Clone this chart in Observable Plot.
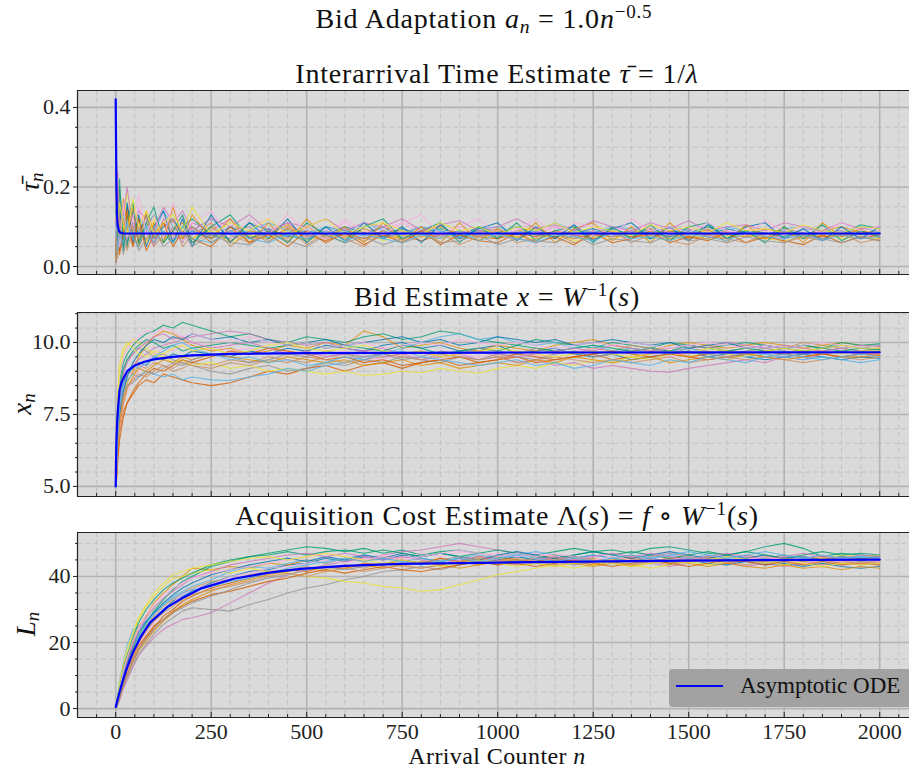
<!DOCTYPE html>
<html><head><meta charset="utf-8">
<script src="https://cdn.jsdelivr.net/npm/d3@7"></script>
<script src="https://cdn.jsdelivr.net/npm/@observablehq/plot@0.6"></script>
<style>
body{margin:0;background:#fff;}
#fig{position:relative;width:909px;height:770px;overflow:hidden;font-family:"Liberation Serif","Times New Roman","DejaVu Serif",serif;color:#111;}
.t{position:absolute;white-space:nowrap;transform:translateX(-50%);font-size:28px;letter-spacing:0.8px;line-height:1;}
.panel{position:absolute;left:0;}
.yl{position:absolute;font-size:27px;line-height:1;transform:translate(-50%,-50%) rotate(-90deg);white-space:nowrap;}
sup{font-size:0.68em;vertical-align:0.5em;line-height:0;}
sub{font-size:0.7em;vertical-align:-0.25em;line-height:0;}
#legend{position:absolute;left:669px;top:669px;width:245px;height:38px;background:#a2a2a2;border-radius:4px;}
#legend .ln{position:absolute;left:7px;top:16px;width:47px;height:2px;background:#0000ff;}
#legend .lt{position:absolute;left:71px;top:5px;font-size:23px;line-height:1;white-space:nowrap;color:#111;}
</style></head>
<body>
<div id="fig">
  <div class="t" style="left:484px;top:5px;">Bid Adaptation <i>a</i><sub><i>n</i></sub> = 1.0<i>n</i><sup>−0.5</sup></div>
  <div class="t" style="left:497px;top:60px;">Interarrival Time Estimate <i>τ̄</i> = 1/<i>λ</i></div>
  <div class="t" style="left:497px;top:283px;">Bid Estimate <i>x</i> = <i>W</i><sup>−1</sup>(<i>s</i>)</div>
  <div class="t" style="left:497px;top:502px;">Acquisition Cost Estimate Λ(<i>s</i>) = <i>f</i> ∘ <i>W</i><sup>−1</sup>(<i>s</i>)</div>
  <div class="t" style="left:497px;top:744px;font-size:24px;letter-spacing:0.4px;">Arrival Counter <i>n</i></div>
  <div class="yl" style="left:30px;top:182px;"><i>τ̄</i><sub><i>n</i></sub></div>
  <div class="yl" style="left:22px;top:404px;"><i>x</i><sub><i>n</i></sub></div>
  <div class="yl" style="left:26px;top:624px;"><i>L</i><sub><i>n</i></sub></div>
  <div id="p1" class="panel" style="top:85px;"></div>
  <div id="p2" class="panel" style="top:307px;"></div>
  <div id="p3" class="panel" style="top:527px;"></div>
  <div id="legend"><div class="ln"></div><div class="lt">Asymptotic ODE</div></div>
</div>
<script>
// ---- data ----
const nGrid = [1,5,10,20,30,45,60,80,100,125,150,175,200,250,300,350,400,450,500,550,600,650,700,750,800,850,900,950,1000,1050,1100,1150,1200,1250,1300,1350,1400,1450,1500,1550,1600,1650,1700,1750,1800,1850,1900,1950,2000];

const tauRuns = [
 [.03,.14,.07,.12,.06,.11,.08,.13,.07,.10,.12,.08,.09,.07,.10,.08,.095,.075,.09,.08,.10,.085,.075,.095,.08,.09,.075,.10,.085,.08,.09,.075,.085,.095,.08,.09,.085,.075,.09,.08,.095,.085,.08,.09,.075,.085,.09,.08,.085],
 [.20,.05,.16,.06,.13,.07,.12,.06,.11,.07,.09,.11,.07,.10,.065,.09,.08,.105,.07,.09,.075,.095,.08,.07,.09,.10,.08,.085,.07,.09,.095,.08,.07,.085,.09,.08,.095,.07,.085,.09,.08,.075,.095,.085,.08,.09,.10,.085,.09],
 [.22,.08,.18,.10,.05,.14,.06,.10,.13,.08,.06,.10,.12,.08,.07,.11,.09,.08,.065,.10,.09,.08,.10,.07,.085,.095,.08,.09,.085,.10,.08,.075,.09,.085,.095,.08,.07,.09,.085,.10,.08,.09,.085,.075,.095,.09,.08,.105,.095],
 [.01,.10,.04,.09,.15,.08,.05,.09,.06,.11,.08,.07,.10,.06,.09,.075,.07,.095,.08,.065,.085,.07,.09,.08,.065,.08,.09,.075,.07,.085,.075,.09,.08,.07,.085,.075,.08,.09,.075,.07,.085,.08,.07,.085,.08,.075,.08,.07,.08],
 [.06,.17,.09,.05,.11,.13,.07,.09,.05,.12,.09,.06,.11,.09,.12,.07,.085,.11,.075,.09,.07,.085,.10,.08,.09,.07,.085,.09,.08,.07,.085,.10,.075,.09,.08,.07,.085,.09,.095,.075,.09,.08,.085,.07,.08,.09,.085,.075,.08],
 [.12,.03,.11,.07,.09,.05,.10,.07,.08,.06,.10,.09,.06,.085,.08,.06,.09,.07,.10,.075,.08,.065,.085,.09,.075,.08,.07,.085,.095,.075,.08,.085,.07,.08,.075,.09,.08,.085,.07,.08,.09,.075,.08,.085,.07,.08,.075,.085,.08],
 [.09,.21,.12,.15,.08,.10,.15,.08,.10,.13,.07,.12,.08,.11,.085,.10,.12,.08,.10,.09,.11,.08,.095,.11,.085,.09,.10,.08,.09,.095,.085,.10,.09,.08,.095,.09,.10,.085,.08,.09,.085,.095,.09,.08,.095,.085,.09,.095,.09],
 [.04,.09,.20,.07,.10,.06,.09,.11,.07,.09,.065,.085,.10,.07,.09,.10,.065,.085,.09,.07,.095,.08,.07,.085,.10,.075,.09,.08,.075,.09,.08,.07,.095,.085,.075,.085,.095,.08,.09,.075,.07,.09,.08,.095,.085,.07,.085,.09,.075],
 [.17,.06,.13,.09,.19,.09,.08,.06,.12,.07,.08,.10,.07,.09,.06,.08,.07,.09,.065,.08,.07,.09,.065,.08,.075,.07,.085,.065,.08,.075,.07,.08,.065,.075,.07,.08,.075,.065,.08,.07,.075,.08,.07,.065,.075,.08,.07,.075,.07],
 [.08,.12,.05,.14,.08,.07,.12,.10,.08,.14,.10,.075,.09,.12,.08,.09,.11,.09,.08,.10,.085,.11,.09,.08,.10,.09,.075,.095,.10,.085,.09,.11,.09,.085,.10,.095,.085,.10,.09,.085,.10,.09,.08,.095,.10,.09,.085,.10,.085],
 [.25,.04,.15,.05,.16,.06,.13,.05,.10,.14,.06,.12,.05,.13,.06,.11,.07,.12,.06,.10,.065,.11,.07,.10,.06,.105,.07,.095,.11,.065,.10,.07,.105,.065,.095,.11,.07,.10,.065,.105,.07,.10,.11,.07,.095,.065,.10,.07,.10],
 [.02,.19,.06,.17,.09,.15,.05,.14,.09,.06,.15,.07,.13,.07,.12,.06,.11,.06,.12,.07,.10,.06,.11,.065,.10,.06,.11,.065,.095,.07,.11,.06,.095,.11,.065,.10,.06,.11,.07,.095,.06,.105,.07,.10,.06,.11,.075,.095,.07],
 [.14,.07,.22,.04,.12,.16,.06,.11,.15,.06,.09,.13,.06,.10,.13,.07,.09,.06,.11,.08,.06,.10,.12,.07,.09,.11,.06,.10,.07,.11,.065,.09,.10,.06,.10,.07,.105,.065,.10,.11,.07,.09,.06,.10,.07,.105,.065,.09,.075],
 [.05,.13,.03,.08,.14,.05,.12,.04,.08,.11,.05,.09,.07,.05,.10,.06,.08,.05,.09,.06,.085,.055,.08,.06,.09,.055,.08,.065,.06,.085,.06,.075,.055,.085,.06,.07,.09,.06,.075,.065,.085,.06,.075,.065,.055,.08,.06,.075,.065],
 [.10,.24,.11,.13,.20,.09,.14,.12,.09,.15,.11,.14,.09,.12,.10,.13,.09,.11,.10,.12,.09,.11,.10,.12,.09,.105,.115,.09,.10,.12,.095,.105,.09,.115,.10,.09,.11,.095,.115,.09,.10,.105,.09,.11,.10,.09,.11,.095,.10],
 [.07,.02,.09,.12,.04,.10,.07,.13,.05,.08,.12,.05,.08,.11,.05,.09,.06,.10,.055,.085,.07,.05,.09,.06,.075,.085,.055,.075,.09,.06,.07,.085,.06,.075,.09,.06,.08,.065,.055,.08,.07,.06,.085,.06,.075,.065,.085,.06,.07],
 [.18,.11,.05,.16,.07,.12,.18,.08,.13,.07,.16,.08,.11,.14,.07,.12,.08,.13,.09,.07,.12,.09,.08,.11,.13,.08,.10,.12,.08,.09,.12,.08,.11,.10,.08,.12,.09,.10,.085,.11,.09,.08,.115,.09,.10,.085,.11,.09,.10],
 [.01,.06,.10,.03,.07,.09,.04,.07,.10,.05,.07,.09,.05,.08,.06,.055,.085,.065,.05,.08,.06,.075,.055,.07,.085,.06,.065,.08,.055,.07,.065,.06,.08,.055,.07,.065,.06,.08,.065,.07,.06,.075,.065,.06,.08,.07,.06,.075,.065],
 [.27,.09,.16,.11,.08,.17,.10,.14,.08,.11,.13,.09,.15,.08,.11,.09,.12,.08,.10,.12,.08,.10,.11,.09,.08,.11,.09,.10,.08,.10,.09,.11,.085,.10,.09,.08,.105,.09,.10,.085,.11,.09,.095,.085,.105,.09,.085,.10,.095],
 [.11,.04,.08,.06,.11,.07,.05,.10,.06,.09,.06,.10,.07,.06,.09,.07,.06,.08,.07,.09,.065,.08,.07,.06,.08,.07,.09,.065,.08,.07,.06,.08,.075,.065,.085,.07,.075,.065,.08,.075,.065,.085,.075,.07,.08,.065,.08,.07,.075]
];

const bidRuns = [
 [5.0,7.2,8.0,8.6,8.9,9.1,9.3,9.2,9.5,9.4,9.6,9.5,9.7,9.6,9.5,9.7,9.6,9.8,9.7,9.9,9.8,9.7,9.9,10.0,9.8,9.9,9.7,9.8,9.9,9.6,9.7,9.8,9.6,9.5,9.6,9.4,9.5,9.6,9.7,9.5,9.6,9.5,9.4,9.5,9.6,9.5,9.4,9.5,9.45],
 [5.0,6.4,7.3,8.1,8.6,9.0,9.5,9.9,10.2,10.4,10.3,10.1,9.9,9.7,9.8,9.6,9.7,9.9,9.8,10.0,9.9,10.4,10.2,9.8,9.9,10.0,9.8,9.7,9.9,9.8,9.7,9.9,10.0,10.1,9.9,9.8,9.7,9.9,10.0,9.9,9.8,9.9,10.0,9.9,9.8,9.9,10.0,9.9,9.85],
 [5.0,7.8,8.7,9.3,9.6,9.9,10.1,10.3,10.4,10.6,10.5,10.7,10.6,10.4,10.2,10.3,10.1,10.0,10.2,10.1,10.0,10.2,10.3,10.1,10.2,10.4,10.3,10.1,10.0,9.9,10.1,10.0,9.9,9.8,10.0,9.9,9.8,10.0,9.9,9.8,9.9,10.0,9.9,9.8,9.9,9.8,10.0,9.9,9.95],
 [5.0,6.0,6.9,7.6,7.9,8.2,8.5,8.7,8.6,8.9,8.8,8.7,8.6,8.5,8.6,8.8,9.0,8.9,9.1,9.2,9.0,9.2,9.3,9.1,9.3,9.4,9.2,9.3,9.4,9.5,9.3,9.4,9.5,9.6,9.4,9.5,9.6,9.7,9.5,9.6,9.7,9.6,9.5,9.6,9.7,9.6,9.7,9.6,9.65],
 [5.0,6.6,7.6,8.4,8.9,9.2,9.4,9.6,9.8,9.9,10.0,10.1,10.2,10.3,10.4,10.3,10.1,10.0,9.9,10.0,9.8,9.7,9.8,9.6,9.7,9.5,9.6,9.4,9.5,9.3,9.4,9.2,9.3,9.1,9.2,9.1,9.0,8.97,9.1,9.2,9.3,9.4,9.3,9.5,9.4,9.6,9.5,9.6,9.55],
 [5.0,7.0,8.2,8.8,9.0,8.9,9.2,9.1,9.3,9.2,9.0,9.1,9.3,9.2,9.4,9.3,9.5,9.4,9.3,9.5,9.6,9.4,9.5,9.6,9.7,9.5,9.6,9.7,9.5,9.6,9.8,9.7,9.6,9.8,9.7,9.9,9.8,9.7,9.8,9.9,9.7,9.8,9.9,9.8,10.0,9.9,9.8,9.7,9.8],
 [5.0,6.2,7.0,7.8,8.3,8.7,9.0,9.3,9.6,9.8,9.7,9.9,10.0,9.9,9.7,9.8,9.6,9.7,9.5,9.6,9.7,9.5,9.4,9.6,9.5,9.7,9.6,9.5,9.6,9.7,9.5,9.6,9.7,9.8,9.6,9.7,9.6,9.5,9.6,9.7,9.6,9.5,9.7,9.6,9.5,9.6,9.7,9.6,9.6],
 [5.0,7.5,8.4,9.0,9.4,9.6,9.8,9.7,9.5,9.6,9.4,9.3,9.2,9.0,8.9,9.1,9.2,9.0,9.1,9.3,9.2,9.4,9.3,9.5,9.4,9.3,9.5,9.4,9.6,9.5,9.4,9.6,9.7,9.5,9.6,9.8,9.7,9.6,9.8,9.7,9.6,9.7,9.8,9.7,9.6,9.7,9.8,9.7,9.75],
 [5.0,7.9,9.0,9.6,9.9,10.1,10.0,9.8,9.6,9.5,9.3,9.4,9.2,9.3,9.1,9.2,9.0,9.1,9.0,8.9,9.0,8.85,8.9,9.0,8.95,9.1,9.0,8.93,9.1,9.2,9.1,9.3,9.2,9.4,9.3,9.5,9.4,9.6,9.5,9.7,9.6,9.5,9.7,9.6,9.8,9.7,9.6,9.7,9.7],
 [5.0,6.8,7.9,8.5,8.7,8.9,8.8,9.0,8.9,8.8,8.9,8.7,8.8,8.7,8.68,8.8,8.9,9.1,9.0,9.2,9.3,9.5,9.6,9.8,10.0,10.2,10.3,10.1,10.2,10.0,9.9,10.0,9.8,9.9,9.7,9.8,9.6,9.7,9.8,9.6,9.7,9.5,9.6,9.5,9.4,9.5,9.4,9.3,9.4],
 [5.0,6.5,7.5,8.3,8.8,9.3,9.6,9.9,10.1,10.0,10.2,10.1,10.3,10.1,10.2,10.0,10.1,9.9,10.0,10.1,9.9,10.0,10.1,10.2,10.0,10.1,9.9,10.0,10.2,10.1,10.0,10.1,9.9,10.0,10.1,10.0,9.9,10.0,9.8,9.9,10.0,9.8,9.9,9.8,9.7,9.8,9.9,9.8,9.9],
 [5.0,6.1,7.1,7.9,8.4,8.8,9.1,9.0,9.2,9.4,9.3,9.5,9.4,9.6,9.5,9.4,9.3,9.5,9.4,9.3,9.4,9.2,9.3,9.4,9.2,9.3,9.1,9.2,9.3,9.2,9.4,9.3,9.5,9.4,9.3,9.4,9.5,9.3,9.4,9.5,9.4,9.6,9.5,9.4,9.5,9.6,9.5,9.5,9.55],
 [5.0,7.4,8.5,9.1,9.4,9.7,9.9,10.1,10.0,9.8,9.9,9.7,9.8,9.9,10.0,9.9,9.8,9.9,10.0,9.8,9.9,9.8,9.7,9.9,9.8,9.6,9.7,9.8,9.7,9.9,9.8,9.7,9.8,9.9,9.8,9.7,9.8,9.7,9.9,9.8,9.7,9.8,9.7,9.8,9.9,9.8,9.7,9.8,9.75],
 [5.0,5.8,6.6,7.4,7.9,8.3,8.6,8.9,9.1,9.0,9.2,9.4,9.3,9.5,9.7,9.6,9.8,9.7,9.6,9.4,9.5,9.3,9.4,9.2,9.3,9.4,9.5,9.3,9.4,9.6,9.5,9.4,9.5,9.6,9.7,9.6,9.5,9.6,9.5,9.4,9.5,9.6,9.7,9.6,9.5,9.6,9.5,9.6,9.6],
 [5.0,7.1,8.1,8.9,9.3,9.6,9.8,10.0,10.2,10.3,10.1,10.2,10.0,9.8,9.9,10.0,9.8,9.6,9.7,9.5,9.6,9.7,9.5,9.6,9.4,9.5,9.6,9.7,9.6,9.5,9.6,9.7,9.8,9.7,9.9,9.8,9.7,9.8,9.9,9.8,10.0,9.9,9.8,9.9,9.8,9.7,9.8,9.9,9.85],
 [5.0,6.3,7.2,8.0,8.5,8.7,8.9,8.8,9.0,9.2,9.1,9.3,9.2,9.1,9.3,9.2,9.4,9.3,9.5,9.4,9.3,9.4,9.6,9.5,9.4,9.6,9.5,9.4,9.5,9.3,9.4,9.5,9.4,9.3,9.4,9.3,9.4,9.5,9.3,9.4,9.5,9.4,9.5,9.4,9.3,9.4,9.5,9.4,9.5],
 [5.0,7.6,8.8,9.5,9.8,10.0,10.2,10.4,10.3,10.5,10.4,10.2,10.3,10.1,10.0,10.2,10.0,9.9,10.0,9.8,9.9,10.0,9.8,9.9,10.0,9.9,10.1,10.0,9.9,10.0,9.9,9.8,9.9,10.0,9.9,10.0,9.9,9.8,9.9,10.0,9.9,9.8,9.9,9.8,9.9,10.0,9.9,9.8,9.9],
 [5.0,6.9,7.7,8.2,8.5,8.6,8.8,9.0,8.9,9.1,9.3,9.2,9.4,9.6,9.5,9.3,9.4,9.6,9.5,9.7,9.6,9.5,9.6,9.4,9.5,9.7,9.6,9.8,9.7,9.6,9.8,9.6,9.7,9.5,9.6,9.7,9.8,9.6,9.7,9.6,9.5,9.6,9.7,9.8,9.7,9.6,9.7,9.6,9.7],
 [5.0,8.0,9.2,9.8,10.0,9.8,9.6,9.5,9.7,9.6,9.8,9.9,9.7,9.8,9.6,9.7,9.9,10.0,9.8,9.7,9.8,9.9,9.7,9.6,9.7,9.5,9.6,9.7,9.8,9.7,9.6,9.5,9.6,9.7,9.6,9.5,9.6,9.7,9.6,9.8,9.7,9.6,9.7,9.8,9.7,9.8,9.9,9.8,9.8],
 [5.0,6.7,7.8,8.6,9.0,9.2,9.1,9.3,9.5,9.7,9.9,10.0,9.8,9.6,9.4,9.5,9.3,9.4,9.2,9.3,9.5,9.4,9.6,9.7,9.5,9.4,9.3,9.2,9.3,9.4,9.2,9.3,9.1,9.2,9.4,9.3,9.2,9.4,9.3,9.5,9.4,9.3,9.5,9.6,9.5,9.4,9.5,9.6,9.5]
];

const costRuns = [
 [0.5,2.0,4.5,9.0,12.0,17.0,20.5,24.0,27.0,30.0,32.5,34.0,35.5,38.0,40.0,41.5,42.0,43.5,44.0,45.5,44.5,46.0,45.0,46.5,45.5,44.5,45.5,44.0,45.0,46.0,45.0,44.0,45.5,46.5,45.5,44.5,45.5,44.0,45.0,44.0,43.5,44.5,43.5,44.0,43.0,44.0,43.0,42.5,43.0],
 [0.3,3.0,6.0,12.0,15.0,20.0,25.0,28.0,32.0,35.0,37.5,40.0,42.5,42.0,43.0,42.5,44.0,43.5,45.0,44.0,45.5,44.5,46.0,45.0,44.0,45.5,44.5,46.0,45.5,44.5,45.5,46.5,45.5,44.5,45.0,46.0,45.0,44.0,45.0,46.0,45.0,44.5,45.5,46.5,45.5,46.0,45.0,45.5,45.0],
 [0.2,2.5,5.0,10.0,13.5,18.0,22.0,26.0,29.5,33.0,36.0,38.5,40.0,43.0,44.5,46.0,47.0,48.0,49.0,48.5,47.5,48.5,47.0,48.0,46.5,47.5,48.0,47.0,46.0,47.0,46.5,47.5,48.5,47.5,48.0,47.0,48.5,49.0,48.0,47.0,46.5,47.5,49.0,50.0,48.5,46.0,47.0,46.5,46.0],
 [0.0,1.5,3.5,7.5,10.5,14.5,18.0,21.5,24.5,28.0,30.0,32.5,34.0,36.5,38.0,39.5,41.0,42.0,41.5,43.0,42.5,44.0,43.5,45.0,44.0,45.5,44.5,45.0,46.0,45.0,44.5,45.5,44.5,43.5,44.5,45.5,44.5,45.5,46.0,45.0,44.0,45.0,46.0,45.5,44.5,45.5,44.5,45.0,44.5],
 [0.5,1.0,2.5,6.0,8.5,12.5,16.0,19.0,21.5,24.0,25.5,27.0,27.5,29.0,32.0,35.0,38.0,40.5,42.0,43.5,44.5,45.5,46.5,47.5,48.0,49.0,50.0,49.0,48.0,47.0,46.0,45.0,46.0,45.0,44.0,45.0,44.0,43.0,44.0,45.0,44.0,43.0,44.0,43.0,44.0,45.0,44.0,43.5,44.0],
 [0.4,2.2,5.0,9.5,13.0,17.5,21.0,25.0,28.0,31.0,33.0,35.0,36.5,38.5,39.0,40.5,41.5,42.0,43.0,42.0,43.5,42.5,44.0,43.0,42.5,43.5,44.5,43.5,44.5,43.5,44.0,43.0,44.0,45.0,44.0,43.5,44.5,45.5,44.5,45.0,44.0,45.0,44.5,45.5,44.5,45.0,44.0,44.5,44.0],
 [0.0,1.8,4.0,8.0,11.0,15.5,19.5,23.0,26.0,29.5,32.0,34.5,36.0,37.5,40.0,41.0,42.5,43.0,44.0,45.0,44.0,45.5,46.5,45.5,47.0,46.0,47.5,46.5,47.0,46.0,47.0,46.0,45.0,46.0,47.0,46.0,45.0,46.5,45.5,46.5,45.5,46.5,45.5,44.5,45.5,46.5,45.5,46.0,45.5],
 [0.2,1.2,3.0,6.5,9.5,13.0,16.5,19.5,22.5,25.5,27.5,29.5,30.5,30.0,29.5,31.5,33.0,35.0,36.5,37.5,39.0,40.0,41.5,42.0,43.0,42.0,43.5,44.5,43.5,44.5,45.5,44.5,43.5,44.5,45.5,46.5,45.5,44.5,45.5,44.5,45.5,46.5,45.5,44.5,45.5,44.5,45.5,44.5,45.0],
 [0.0,3.5,7.0,13.0,16.5,22.0,27.0,31.0,34.0,37.0,39.5,40.0,41.0,42.0,41.0,42.5,41.5,41.0,40.0,39.5,38.5,38.0,37.0,36.5,35.5,36.0,37.5,39.0,40.5,41.5,42.5,43.5,42.5,43.5,44.5,43.5,42.5,43.5,44.5,43.5,44.5,45.5,44.5,43.5,44.5,45.5,46.5,46.0,46.5],
 [0.6,4.0,8.0,14.0,19.0,24.0,24.5,26.5,29.0,31.5,34.0,35.5,37.0,39.0,41.5,43.0,42.5,44.0,45.0,44.0,45.5,46.5,45.5,44.5,45.5,44.5,45.5,46.5,45.5,46.5,47.5,46.5,45.5,46.5,45.5,44.5,45.5,46.5,45.5,46.5,45.5,44.5,45.5,46.5,45.5,44.5,45.5,46.0,45.5],
 [0.3,2.5,5.5,11.0,14.0,19.0,23.0,26.5,29.0,32.0,34.5,36.5,38.0,40.5,42.0,43.5,44.5,45.5,44.5,46.0,45.0,46.5,45.5,47.0,46.0,47.0,46.0,45.0,46.5,47.5,46.5,45.5,46.5,47.5,46.5,45.5,46.5,47.5,46.5,45.5,46.5,45.5,46.5,45.5,46.0,45.0,46.0,45.5,46.0],
 [0.1,1.3,3.2,7.0,10.0,14.0,17.5,20.5,23.5,26.5,29.0,31.5,33.0,35.5,37.5,39.0,40.5,41.5,42.5,41.5,42.5,43.5,42.5,43.5,44.5,43.5,42.5,43.5,44.5,45.0,44.0,45.0,44.0,43.0,44.0,43.0,44.0,45.0,44.0,43.0,44.0,43.0,42.5,43.5,42.5,43.0,42.0,43.0,42.5],
 [0.4,2.8,6.5,12.5,16.0,21.5,26.0,30.0,33.0,36.0,38.0,39.5,41.0,43.5,45.0,46.0,46.5,47.5,46.5,47.5,48.0,47.0,48.0,47.0,46.0,47.0,46.0,47.0,48.0,47.0,46.0,45.5,46.5,47.5,46.5,47.5,46.5,45.5,46.5,47.5,46.5,47.5,46.5,45.5,46.5,47.5,46.5,47.0,46.5],
 [0.0,1.6,3.8,8.0,11.5,15.5,19.0,22.0,25.0,27.0,29.5,31.0,32.5,34.5,35.5,37.0,38.5,39.5,41.0,42.0,41.0,42.0,43.0,42.0,41.5,42.5,43.5,44.5,43.5,44.0,43.0,44.0,45.0,44.0,43.0,44.0,45.0,44.0,43.0,44.0,45.0,44.5,43.5,44.5,43.5,44.5,43.5,44.0,43.5],
 [0.5,2.3,5.2,10.5,14.5,19.5,23.5,27.5,30.5,33.5,35.5,37.5,39.5,41.5,43.5,44.5,45.5,46.5,47.0,46.0,47.0,46.0,45.0,46.0,45.0,44.0,45.0,46.0,45.0,44.0,45.0,46.0,45.0,46.0,47.0,46.0,47.0,46.0,45.0,46.0,47.0,46.0,45.0,46.0,47.0,46.0,45.5,46.5,46.0],
 [0.2,1.9,4.2,8.5,12.0,16.0,20.0,23.5,26.5,29.0,31.0,33.0,34.5,36.0,37.0,38.5,40.0,41.0,40.0,41.5,42.5,41.5,42.5,43.5,42.5,43.5,44.5,45.5,44.5,45.5,44.5,43.5,44.5,45.5,44.5,43.5,44.5,43.5,44.5,45.5,44.5,43.5,44.5,45.5,44.5,43.5,44.5,44.0,44.5],
 [0.3,2.6,6.0,11.5,15.5,20.5,24.5,28.5,31.5,34.5,36.5,38.0,39.5,41.0,42.0,43.0,44.0,45.0,46.0,47.0,46.0,45.0,46.0,45.0,46.0,47.0,48.0,47.0,46.0,47.0,46.0,47.0,46.0,45.0,46.0,45.0,46.0,47.0,46.0,45.0,46.0,45.0,46.0,45.0,44.0,45.0,44.5,45.0,44.5],
 [0.0,1.4,3.4,7.2,10.2,14.2,17.8,21.2,24.0,27.0,29.0,30.5,32.0,34.0,36.0,38.0,39.5,40.5,42.0,43.0,42.0,43.0,44.0,45.0,44.0,45.0,46.0,45.0,44.0,45.0,44.0,45.0,46.0,45.0,44.0,45.0,46.0,47.0,46.0,45.0,46.0,45.0,44.0,45.0,46.0,45.0,46.0,45.0,45.5],
 [0.6,3.2,7.5,13.5,18.0,23.0,27.5,31.5,35.0,38.0,40.5,41.5,42.5,43.5,44.5,45.5,46.0,45.0,46.0,47.0,46.0,45.0,44.0,45.0,44.0,43.0,44.0,45.0,44.0,43.0,44.0,43.0,44.0,45.0,44.0,43.0,44.0,45.0,44.0,45.0,46.0,45.0,44.0,45.0,44.0,43.0,44.0,43.5,44.0],
 [0.1,2.0,4.8,9.8,13.0,17.0,21.5,25.5,28.5,31.5,33.5,35.0,36.0,37.0,38.5,39.5,41.0,42.5,43.5,44.5,45.5,44.5,45.5,44.5,43.5,44.5,45.5,44.5,45.5,46.5,45.5,44.5,45.5,44.5,45.5,46.5,45.5,46.5,47.5,46.5,45.5,46.5,47.5,46.5,45.5,46.5,45.5,46.0,45.5]
];

// Asymptotic ODE curves
const tauOdeN = [0,1,2,3,5,8,12,20,40,2000];
const tauOdeV = [0.42,0.30,0.20,0.14,0.105,0.09,0.085,0.083,0.083,0.083];
const bidOdeN = [0,1,2,4,6,10,15,20,30,50,75,100,150,200,300,500,1000,2000];
const bidOdeV = [5.0,6.0,6.6,7.3,7.7,8.35,8.6,8.75,9.0,9.2,9.33,9.41,9.5,9.55,9.6,9.63,9.65,9.66];
const costOdeN = [0,10,20,30,45,65,90,135,180,222,309,397,484,600,745,1000,1500,2000];
const costOdeV = [0.5,5.0,9.0,12.5,17.0,21.6,26.0,30.7,33.8,36.3,39.3,41.1,42.3,43.2,43.8,44.2,44.8,45.1];

const xTicks = [0,250,500,750,1000,1250,1500,1750,2000];
const tauTicks = [0.0,0.2,0.4];
const bidTicks = [5.0,7.5,10.0];
const costTicks = [0,20,40];

const palette = ["#0173b2","#de8f05","#029e73","#d55e00","#cc78bc","#ca9161","#fbafe4","#949494","#ece133","#56b4e9"];

// ---- helpers ----
function runsToRows(runs){
  const rows = [];
  runs.forEach((r,i)=>{ const m=Math.min(r.length,nGrid.length); for(let k=0;k<m;k++) rows.push({run:i,n:nGrid[k],v:r[k]}); });
  return rows;
}
function odeRows(ns,vs){ return ns.map((n,i)=>({n,v:vs[i]})); }

const xDomain = [-100, 2078];
const xMinor = d3.range(-100, 2078, 50).filter(d => d % 250 !== 0);
const FONT = "'Liberation Serif','Times New Roman','DejaVu Serif',serif";

function panel({runs, ode, yDomain, yTicks, yMinorStep, height, marginBottom, labels, fmt}){
  const frameH = height - 5 - marginBottom;
  const yMinor = d3.range(Math.ceil(yDomain[0]/yMinorStep)*yMinorStep, yDomain[1], yMinorStep)
     .filter(v => !yTicks.some(t => Math.abs(t - v) < 1e-9));
  return Plot.plot({
    width: 909, height, marginLeft: 77, marginRight: 0, marginTop: 5, marginBottom,
    x: {domain: xDomain},
    y: {domain: yDomain},
    style: {background: "transparent", fontFamily: FONT, fontSize: "22px", color: "#222", overflow: "visible"},
    marks: [
      Plot.frame({fill: "#dadada", stroke: null}),
      Plot.gridX(xMinor, {stroke: "#bdbdbd", strokeOpacity: 1, strokeWidth: 0.8, strokeDasharray: "5,3"}),
      Plot.gridY(yMinor, {stroke: "#bdbdbd", strokeOpacity: 1, strokeWidth: 0.8, strokeDasharray: "5,3"}),
      Plot.gridX(xTicks, {stroke: "#b3b3b3", strokeOpacity: 1, strokeWidth: 1.6}),
      Plot.gridY(yTicks, {stroke: "#b3b3b3", strokeOpacity: 1, strokeWidth: 1.6}),
      Plot.line(runsToRows(runs), {x: "n", y: "v", z: "run", stroke: d => palette[d.run % 10], strokeWidth: 1.1, strokeOpacity: 0.8}),
      Plot.line(ode, {x: "n", y: "v", stroke: "#0000ff", strokeWidth: 2.2}),
      Plot.tickX(xTicks, {x: d => d, stroke: "#222", insetTop: frameH - 5}),
      Plot.tickX(xMinor, {x: d => d, stroke: "#222", insetTop: frameH - 3}),
      Plot.ruleX([xDomain[0]], {stroke: "#222", strokeWidth: 1.2}),
      Plot.ruleY([yDomain[0]], {stroke: "#222", strokeWidth: 1.2}),
      Plot.ruleY([yDomain[1]], {stroke: "#222", strokeWidth: 1.2}),
      Plot.axisY(yTicks, {tickSize: 4, tickPadding: 3, label: null, tickFormat: fmt, fill: "#222", stroke: "#222"}),
      Plot.axisY(yMinor, {tickSize: 2, label: null, tickFormat: () => "", stroke: "#222"}),
      Plot.axisX(xTicks, {tickSize: 0, tickPadding: 6, label: null, tickFormat: labels ? (d => String(d)) : (() => ""), fill: "#222"})
    ]
  });
}

document.getElementById("p1").append(panel({
  runs: tauRuns, ode: odeRows(tauOdeN, tauOdeV), yDomain: [-0.02, 0.4425], yTicks: tauTicks, yMinorStep: 0.05,
  height: 195, marginBottom: 6, labels: false, fmt: d => d.toFixed(1)
}));
document.getElementById("p2").append(panel({
  runs: bidRuns, ode: odeRows(bidOdeN, bidOdeV), yDomain: [4.65, 11.04], yTicks: bidTicks, yMinorStep: 0.5,
  height: 195, marginBottom: 6, labels: false, fmt: d => d.toFixed(1)
}));
document.getElementById("p3").append(panel({
  runs: costRuns, ode: odeRows(costOdeN, costOdeV), yDomain: [-2.7, 53.3], yTicks: costTicks, yMinorStep: 5,
  height: 243, marginBottom: 53, labels: true, fmt: d => String(d)
}));
</script>
</body></html>
